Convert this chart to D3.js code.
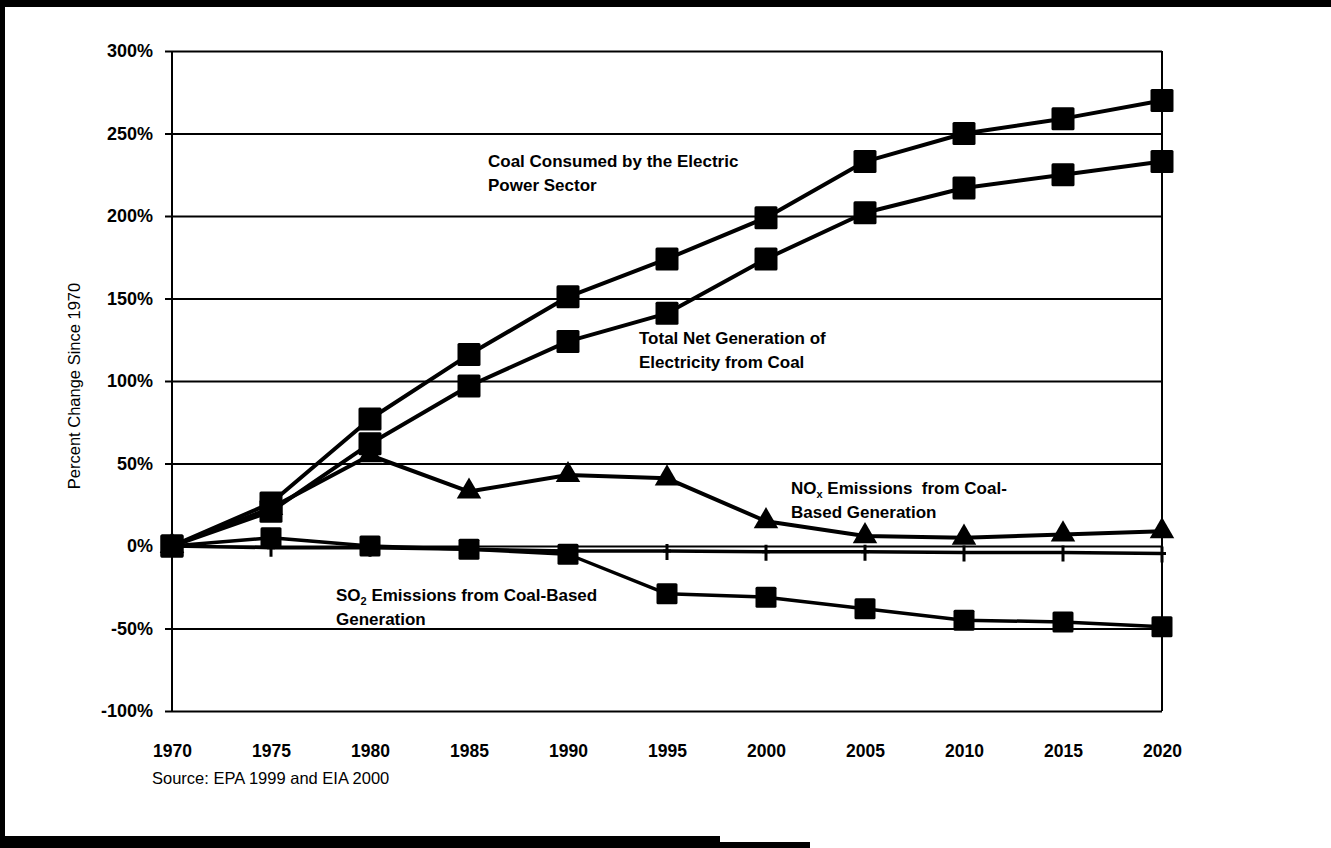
<!DOCTYPE html>
<html>
<head>
<meta charset="utf-8">
<script src="https://cdn.jsdelivr.net/npm/d3@7"></script>
<style>
  html, body { margin: 0; padding: 0; background: #fff; }
  svg { display: block; }
  text { font-family: "Liberation Sans", Arial, sans-serif; fill: #000; }
</style>
</head>
<body>
<svg id="chart" width="1331" height="848"></svg>
<script>
// ---- data ----
const years = [1970, 1975, 1980, 1985, 1990, 1995, 2000, 2005, 2010, 2015, 2020];
const coalConsumed = [0, 26, 77, 116, 151, 174, 199, 233, 250, 259, 270];
const netGeneration = [0, 21, 62, 97, 124, 141, 174, 202, 217, 225, 233];
const noxEmissions = [0, 23, 55, 33, 43, 41, 15, 6, 5, 7, 9];
const flatSeries = [0, -1, -1, -2, -3, -3, -3.5, -3.5, -4, -4, -4.5];
const so2Emissions = [0, 5, 0, -2, -5, -29, -31, -38, -45, -46, -49];
const yTicks = [-100, -50, 0, 50, 100, 150, 200, 250, 300];
const xTicks = years;

const svg = d3.select("#chart");
const W = 1331, H = 848;
svg.append("rect").attr("width", W).attr("height", H).attr("fill", "#fff");

const x = d3.scaleLinear().domain([1970, 2020]).range([172, 1162]);
const y = d3.scaleLinear().domain([-100, 300]).range([711, 51]);

// gridlines + y labels via axis
const yAxis = d3.axisLeft(y).tickValues(yTicks).tickFormat(d => d + "%")
  .tickSizeInner(-(1162 - 165)).tickSizeOuter(0).tickPadding(12);
const gy = svg.append("g").attr("transform", "translate(165,0)").call(yAxis);
gy.select(".domain").remove();
gy.selectAll(".tick line").attr("stroke", "#000").attr("stroke-width", 2);
gy.selectAll(".tick text").attr("font-size", 18).attr("font-weight", "bold")
  .attr("font-family", "'Liberation Sans', Arial, sans-serif");

// x labels via axis
const xAxis = d3.axisBottom(x).tickValues(xTicks).tickFormat(d3.format("d"))
  .tickSize(0).tickPadding(34);
const gx = svg.append("g").attr("transform", "translate(0,711)").call(xAxis);
gx.select(".domain").remove();
gx.selectAll(".tick text").attr("font-size", 17.5).attr("font-weight", "bold")
  .attr("font-family", "'Liberation Sans', Arial, sans-serif");

// frame verticals
svg.append("line").attr("x1", x(1970)).attr("x2", x(1970)).attr("y1", y(300)).attr("y2", y(-100))
  .attr("stroke", "#000").attr("stroke-width", 2);
svg.append("line").attr("x1", x(2020)).attr("x2", x(2020)).attr("y1", y(300)).attr("y2", y(-100))
  .attr("stroke", "#000").attr("stroke-width", 2);

function series(vals, width) {
  const pts = years.map((yr, i) => [x(yr), y(vals[i])]);
  svg.append("path").attr("d", d3.line()(pts)).attr("fill", "none")
    .attr("stroke", "#000").attr("stroke-width", width).attr("stroke-linejoin", "round");
  return pts;
}
function squares(pts, s) {
  svg.append("g").selectAll("rect").data(pts).join("rect")
    .attr("x", d => d[0] - s / 2).attr("y", d => d[1] - s / 2)
    .attr("width", s).attr("height", s).attr("rx", 1.5).attr("fill", "#000");
}
function triangles(pts, s) {
  const sym = d3.symbol().type(d3.symbolTriangle).size(s);
  svg.append("g").selectAll("path").data(pts).join("path")
    .attr("transform", d => `translate(${d[0]},${d[1]})`).attr("d", sym()).attr("fill", "#000");
}
function pluses(pts) {
  svg.append("g").selectAll("path").data(pts).join("path")
    .attr("d", d => `M${d[0]},${d[1] - 7}V${d[1] + 9}M${d[0] - 4},${d[1]}H${d[0] + 4}`)
    .attr("stroke", "#000").attr("stroke-width", 3).attr("fill", "none");
}

const pFlat = series(flatSeries, 3.5);
pluses(pFlat);
const pSo2 = series(so2Emissions, 3.5);
squares(pSo2, 21);
const pNox = series(noxEmissions, 4);
triangles(pNox, 260);
const pGen = series(netGeneration, 4);
squares(pGen, 23);
const pCoal = series(coalConsumed, 4);
squares(pCoal, 23);

// annotations
function note(x0, y0, lines) {
  const t = svg.append("text").attr("font-size", 17).attr("font-weight", "bold")
    .style("white-space", "pre");
  lines.forEach((ln, i) => {
    const base = t.append("tspan").attr("x", x0).attr("y", y0 + i * 24);
    ln.forEach((part, j) => {
      const sp = j === 0 ? base : t.append("tspan");
      if (part.sub) sp.attr("font-size", 11).attr("dy", 4);
      else if (j > 0 && ln[j - 1].sub) sp.attr("dy", -4);
      sp.text(part.t);
    });
  });
}
note(488, 167, [[{t: "Coal Consumed by the Electric"}], [{t: "Power Sector"}]]);
note(639, 344, [[{t: "Total Net Generation of"}], [{t: "Electricity from Coal"}]]);
note(791, 494, [[{t: "NO"}, {t: "x", sub: true}, {t: " Emissions\u00a0\u00a0from Coal-"}], [{t: "Based Generation"}]]);
note(336, 601, [[{t: "SO"}, {t: "2", sub: true}, {t: " Emissions from Coal-Based"}], [{t: "Generation"}]]);

// y axis title
svg.append("text").attr("transform", "translate(80,386) rotate(-90)")
  .attr("text-anchor", "middle").attr("font-size", 16.5).text("Percent Change Since 1970");

// source
svg.append("text").attr("x", 152).attr("y", 784).attr("font-size", 16.5)
  .text("Source: EPA 1999 and EIA 2000");

// scan frame (black border)
svg.append("rect").attr("x", 0).attr("y", 0).attr("width", W).attr("height", 7).attr("fill", "#000");
svg.append("rect").attr("x", 0).attr("y", 0).attr("width", 5).attr("height", H).attr("fill", "#000");
svg.append("rect").attr("x", 0).attr("y", 836).attr("width", 720).attr("height", 12).attr("fill", "#000");
svg.append("rect").attr("x", 720).attr("y", 842).attr("width", 90).attr("height", 6).attr("fill", "#000");
</script>
</body>
</html>
